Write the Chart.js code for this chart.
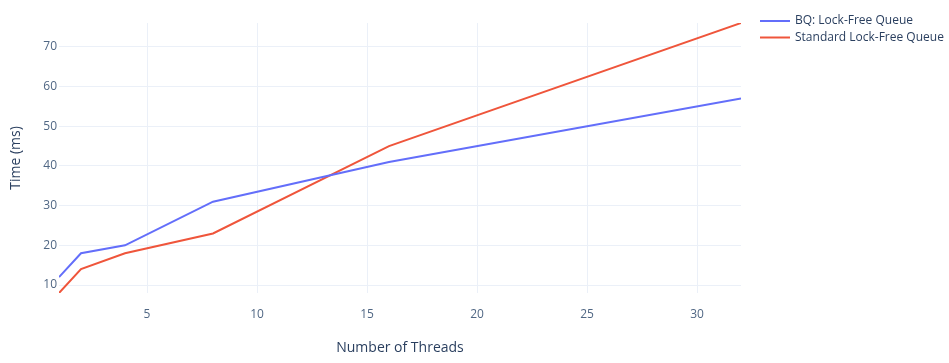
<!DOCTYPE html>
<html>
<head>
<meta charset="utf-8">
<script src="https://cdn.jsdelivr.net/npm/chart.js@4"></script>
<style>
  body { margin: 0; background: #fff; }
  canvas { display: block; }
</style>
</head>
<body>
<canvas id="myChart" width="949" height="363"></canvas>
<script>
var threads = [1, 2, 4, 8, 16, 32];
var bqTimes = [12, 18, 20, 31, 41, 57];
var stdTimes = [8, 14, 18, 23, 45, 76];
var seriesNames = ['BQ: Lock-Free Queue', 'Standard Lock-Free Queue'];
var seriesColors = ['#636efa', '#EF553B'];

function toPoints(xs, ys) {
    return xs.map(function (x, i) { return { x: x, y: ys[i] }; });
}

// legend drawn by hand, plotly style, to the right of the plot
const sideLegend = {
    id: 'sideLegend',
    afterDraw(chart) {
        const ctx = chart.ctx;
        ctx.save();
        ctx.font = '12px "Open Sans"';
        ctx.textBaseline = 'middle';
        chart.data.datasets.forEach(function (ds, i) {
            const y = 21 + i * 16.5;
            ctx.strokeStyle = ds.borderColor;
            ctx.lineWidth = 2;
            ctx.beginPath();
            ctx.moveTo(760, y);
            ctx.lineTo(790, y);
            ctx.stroke();
            ctx.fillStyle = '#2a3f5f';
            ctx.fillText(ds.label, 795, y);
        });
        ctx.restore();
    }
};

const ctx = document.getElementById('myChart').getContext('2d');
new Chart(ctx, {
    type: 'line',
    data: {
        datasets: [{
            label: seriesNames[0],
            data: toPoints(threads, bqTimes),
            borderColor: seriesColors[0],
            borderWidth: 2,
            pointRadius: 0,
            tension: 0
        }, {
            label: seriesNames[1],
            data: toPoints(threads, stdTimes),
            borderColor: seriesColors[1],
            borderWidth: 2,
            pointRadius: 0,
            tension: 0
        }]
    },
    options: {
        responsive: false,
        animation: false,
        devicePixelRatio: 1,
        layout: { padding: { left: 0, top: 23, right: 208, bottom: 0 } },
        plugins: {
            legend: { display: false },
            tooltip: { enabled: false }
        },
        scales: {
            x: {
                type: 'linear',
                min: 1,
                max: 32,
                afterFit: function (scale) { scale.height = 70; },
                border: { display: false },
                grid: { color: '#EBF0F8', drawTicks: false },
                ticks: {
                    stepSize: 5,
                    includeBounds: false,
                    padding: 14,
                    maxRotation: 0,
                    color: '#506784',
                    font: { family: '"Open Sans"', size: 12 }
                },
                title: {
                    display: true,
                    text: 'Number of Threads',
                    color: '#2a3f5f',
                    padding: { top: 0, bottom: 7 },
                    font: { family: '"Open Sans"', size: 14 }
                }
            },
            y: {
                type: 'linear',
                min: 8,
                max: 76,
                afterFit: function (scale) { scale.width = 59; },
                border: { display: false },
                grid: { color: '#EBF0F8', drawTicks: false },
                ticks: {
                    stepSize: 10,
                    includeBounds: false,
                    padding: 2,
                    color: '#506784',
                    font: { family: '"Open Sans"', size: 12 }
                },
                title: {
                    display: true,
                    text: 'Time (ms)',
                    color: '#2a3f5f',
                    padding: { top: 8, bottom: 0 },
                    font: { family: '"Open Sans"', size: 14 }
                }
            }
        }
    },
    plugins: [sideLegend]
});
</script>
</body>
</html>
